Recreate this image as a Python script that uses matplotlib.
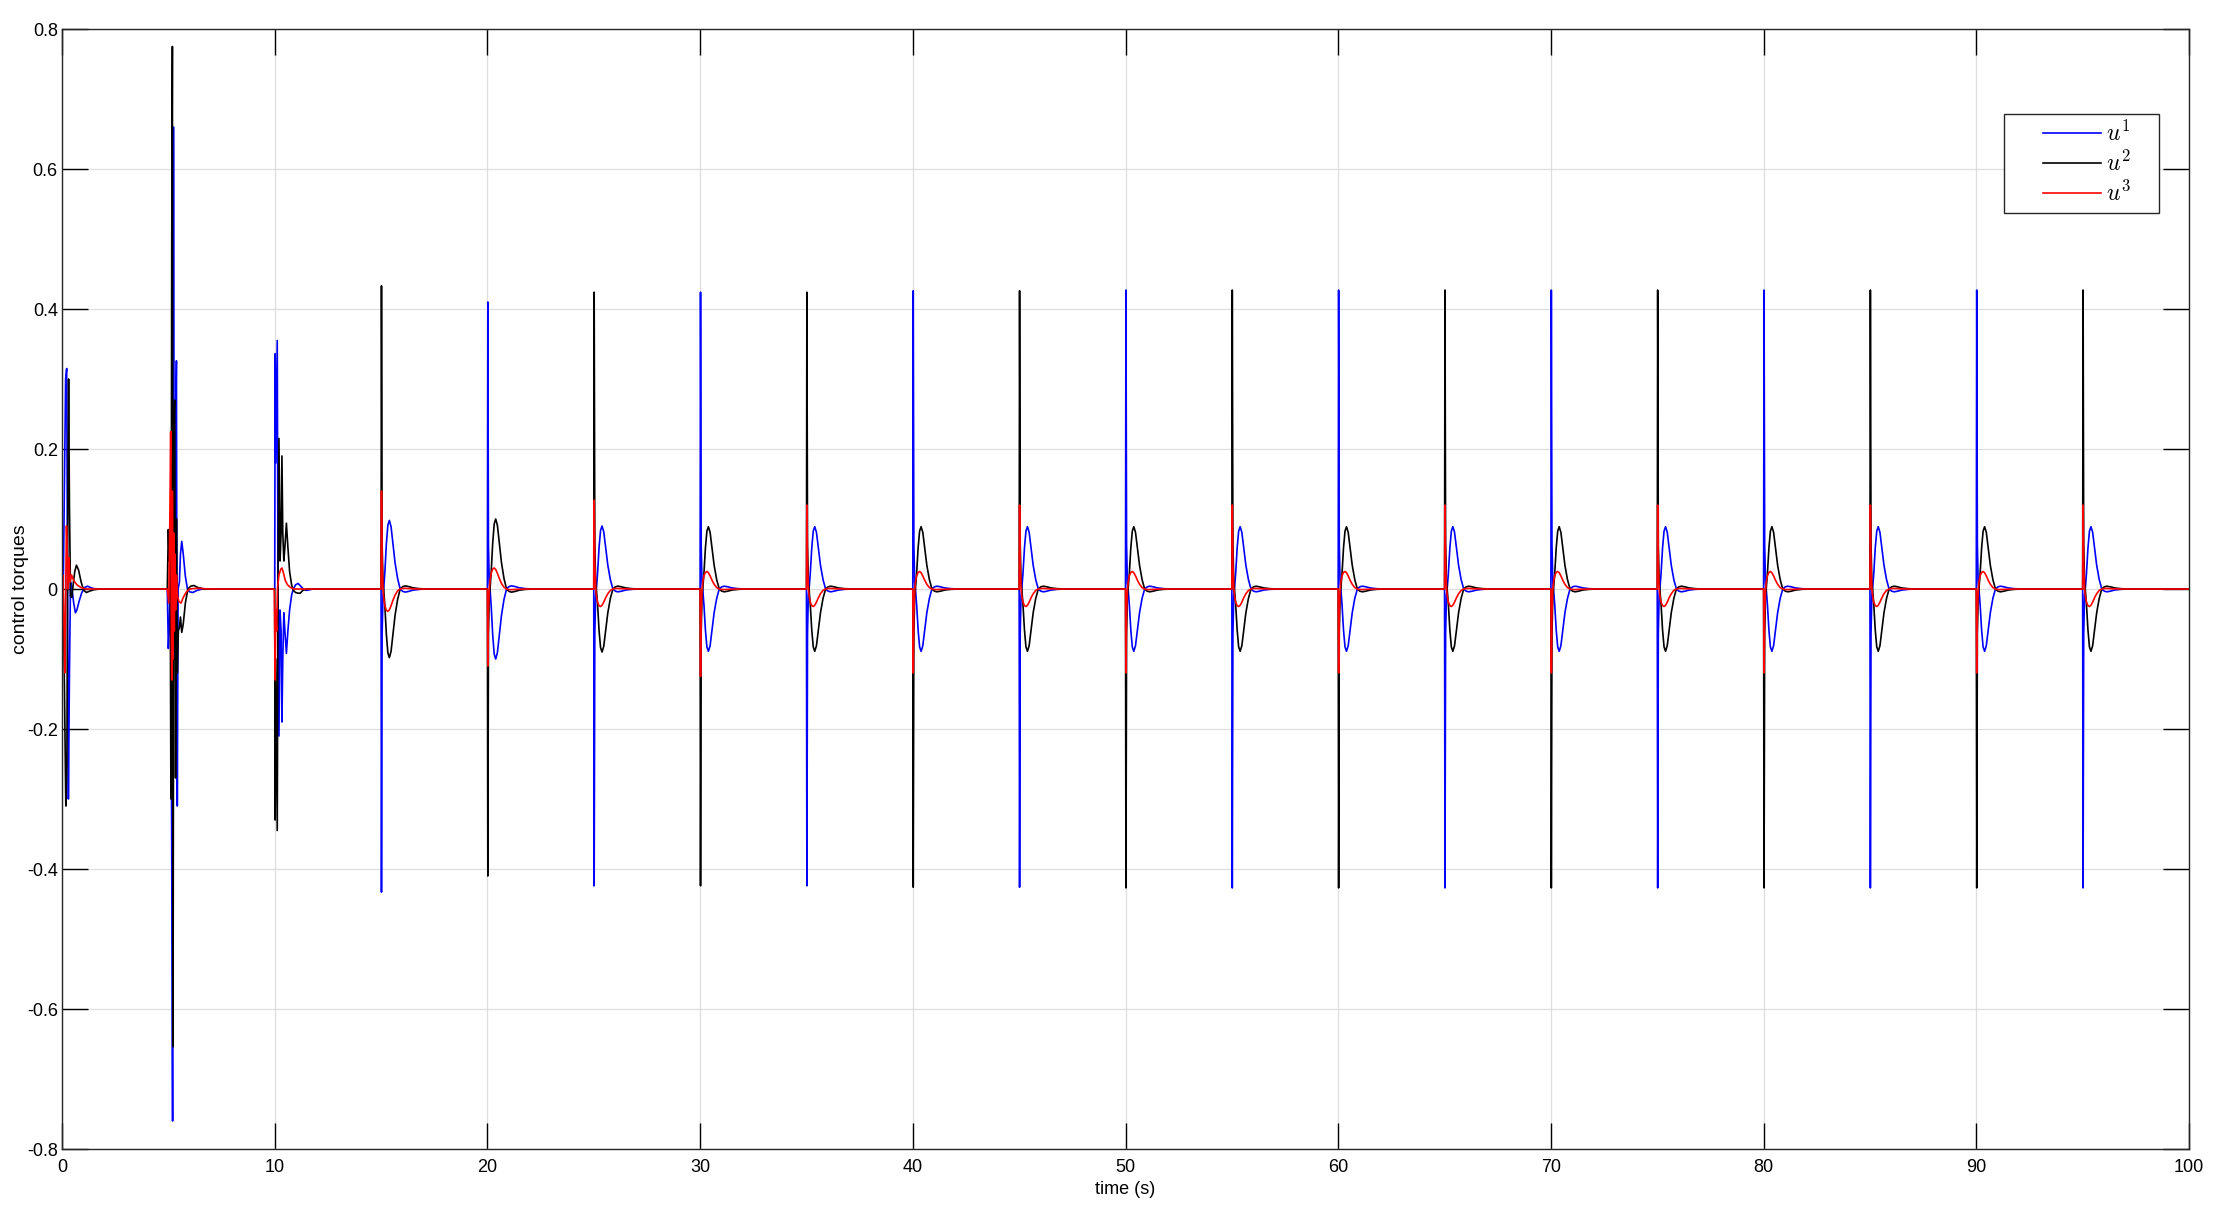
import matplotlib
matplotlib.use("Agg")
import matplotlib.pyplot as plt
from matplotlib.lines import Line2D
from matplotlib.legend_handler import HandlerLine2D
import numpy as np

plt.rcParams['font.family'] = ['Liberation Sans', 'DejaVu Sans']
plt.rcParams['mathtext.fontset'] = 'cm'

# ---- data ----
# first three (transient) pulses, explicit samples: time (s), torque
p0_t_u1 = [0, 0.06, 0.12, 0.17, 0.22, 0.26, 0.3, 0.35, 0.4, 0.47, 0.55, 0.63, 0.7, 0.8, 0.92, 1.05, 1.2, 1.35, 1.5, 1.8]
p0_u1 = [0, 0.0, 0.17, 0.3, 0.315, 0.0, -0.3, -0.12, 0.01, 0.0, -0.02, -0.034, -0.03, -0.018, -0.006, 0.002, 0.004, 0.002, 0.0005, 0]
p0_t_u2 = [0, 0.06, 0.12, 0.18, 0.23, 0.27, 0.31, 0.35, 0.4, 0.46, 0.52, 0.6, 0.68, 0.78, 0.9, 1.02, 1.15, 1.3, 1.5, 1.8]
p0_u2 = [0, 0.0, -0.15, -0.31, -0.25, 0.1, 0.3, 0.12, -0.01, -0.012, 0.005, 0.025, 0.034, 0.027, 0.01, -0.002, -0.005, -0.003, -0.001, 0]
p0_t_u3 = [0, 0.04, 0.09, 0.13, 0.17, 0.21, 0.25, 0.29, 0.33, 0.38, 0.45, 0.55, 0.7, 0.9, 1.1, 1.4]
p0_u3 = [0, 0.02, -0.05, -0.12, -0.02, 0.09, 0.05, 0.0, 0.045, 0.01, 0.02, 0.012, 0.006, 0.002, 0.0, 0]

p5_t_u1 = [4.95, 5.0, 5.05, 5.1, 5.15, 5.2, 5.24, 5.28, 5.33, 5.38, 5.42, 5.46, 5.52, 5.57, 5.63, 5.7, 5.8, 5.9, 6.0, 6.15, 6.35, 6.6, 7.0]
p5_u1 = [0, -0.085, -0.05, 0.05, -0.3, -0.76, 0.66, -0.1, 0.2, 0.326, -0.31, 0.0, 0.01, 0.05, 0.068, 0.05, 0.018, 0.0, -0.004, -0.005, -0.002, 0, 0]
p5_t_u2 = [4.95, 5.0, 5.04, 5.08, 5.12, 5.16, 5.19, 5.22, 5.26, 5.3, 5.34, 5.38, 5.42, 5.47, 5.52, 5.57, 5.63, 5.7, 5.8, 5.92, 6.05, 6.2, 6.4, 6.7, 7.0]
p5_u2 = [0, 0.085, 0.04, 0.1, -0.3, 0.5, 0.775, -0.654, 0.24, 0.27, -0.27, 0.1, -0.12, -0.06, -0.055, -0.04, -0.062, -0.05, -0.02, 0.0, 0.004, 0.005, 0.002, 0, 0]
p5_t_u3 = [4.95, 5.02, 5.07, 5.11, 5.14, 5.16, 5.19, 5.22, 5.25, 5.28, 5.31, 5.34, 5.38, 5.43, 5.5, 5.6, 5.7, 5.85, 6.0, 6.3, 7.0]
p5_u3 = [0, -0.02, 0.1, 0.225, -0.05, -0.13, 0.14, -0.1, 0.08, -0.06, 0.05, -0.03, 0.02, -0.01, -0.018, -0.02, -0.012, -0.004, 0.0, 0.001, 0]

p10_t_u1 = [9.98, 10.0, 10.02, 10.05, 10.08, 10.12, 10.16, 10.2, 10.25, 10.3, 10.34, 10.38, 10.43, 10.48, 10.55, 10.62, 10.7, 10.8, 10.88, 10.98, 11.1, 11.22, 11.35, 11.5, 11.8, 12.0]
p10_u1 = [0, 0.0, 0.336, 0.18, 0.25, 0.355, -0.05, -0.21, -0.03, -0.06, -0.19, -0.1, -0.034, -0.06, -0.092, -0.06, -0.03, -0.008, 0.0, 0.006, 0.008, 0.004, 0.0, -0.002, 0, 0]
p10_t_u2 = [9.98, 10.0, 10.02, 10.05, 10.08, 10.12, 10.16, 10.2, 10.25, 10.3, 10.34, 10.38, 10.43, 10.48, 10.55, 10.62, 10.7, 10.8, 10.88, 10.98, 11.1, 11.2, 11.32, 11.5, 12.0]
p10_u2 = [0, 0.0, -0.33, -0.1, -0.2, -0.345, 0.05, 0.215, 0.04, 0.08, 0.19, 0.08, 0.04, 0.06, 0.094, 0.06, 0.025, 0.005, -0.002, -0.005, -0.006, -0.006, -0.002, 0.0, 0]
p10_t_u3 = [9.98, 10.0, 10.02, 10.05, 10.09, 10.13, 10.2, 10.28, 10.34, 10.42, 10.5, 10.6, 10.75, 10.9, 11.5, 12.0]
p10_u3 = [0, -0.06, -0.13, -0.03, -0.06, 0.0, 0.02, 0.028, 0.03, 0.022, 0.012, 0.006, 0.002, 0.0, 0, 0]

# periodic pulses from t = 15 s: shape of the channel that spikes upward
pulse_dt = [0.0, 0.02, 0.05, 0.09, 0.13, 0.18, 0.25, 0.32, 0.39, 0.47, 0.56, 0.66, 0.78, 0.9, 1.02, 1.14, 1.3, 1.5, 1.8, 2.2]
spike_shape = [0, 1.0, 0.15, 0.02, 0, 0, 0, 0, 0, 0, 0, 0, 0, 0, 0, 0, 0, 0, 0, 0]
bump_shape = [0, 0, 0, 0, -0.03, -0.25, -0.66, -0.93, -1.0, -0.91, -0.66, -0.38, -0.15, 0.0, 0.035, 0.045, 0.035, 0.017, 0.005, 0]
red_spike_shape = [0, 1.0, 0.3, 0.05, 0, 0, 0, 0, 0, 0, 0, 0, 0, 0, 0, 0, 0, 0, 0, 0]
red_bump_shape = [0, 0, 0, -0.2, -0.45, -0.75, -0.95, -1.0, -0.93, -0.75, -0.5, -0.27, -0.08, 0.0, 0.03, 0.03, 0.02, 0.01, 0, 0]

pulse_times = [15, 20, 25, 30, 35, 40, 45, 50, 55, 60, 65, 70, 75, 80, 85, 90, 95]
lead_channel = [2, 1, 2, 1, 2, 1, 2, 1, 2, 1, 2, 1, 2, 1, 2, 1, 2]   # which of u1/u2 spikes up
spike_peak = [0.433, 0.41, 0.424, 0.424, 0.424, 0.426, 0.426, 0.427, 0.427, 0.427, 0.427, 0.427, 0.427, 0.427, 0.427, 0.427, 0.427]
bump_peak = [0.098, 0.1, 0.09, 0.089, 0.089, 0.089, 0.089, 0.089, 0.089, 0.089, 0.089, 0.089, 0.089, 0.089, 0.089, 0.089, 0.089]
red_spike_peak = [0.14, 0.11, 0.127, 0.125, 0.12, 0.12, 0.12, 0.12, 0.12, 0.12, 0.12, 0.12, 0.12, 0.12, 0.12, 0.12, 0.12]
red_bump_peak = [0.032, 0.03, 0.025, 0.025, 0.025, 0.025, 0.025, 0.025, 0.025, 0.025, 0.025, 0.025, 0.025, 0.025, 0.025, 0.025, 0.025]

t_end = 100
x_ticks = [0, 10, 20, 30, 40, 50, 60, 70, 80, 90, 100]
y_ticks = [-0.8, -0.6, -0.4, -0.2, 0, 0.2, 0.4, 0.6, 0.8]
y_tick_labels = ['-0.8', '-0.6', '-0.4', '-0.2', '0', '0.2', '0.4', '0.6', '0.8']
labels = [r'$u^1$', r'$u^2$', r'$u^3$']

# ---- assemble the three series ----
t1, v1 = list(p0_t_u1) + p5_t_u1 + p10_t_u1, list(p0_u1) + p5_u1 + p10_u1
t2, v2 = list(p0_t_u2) + p5_t_u2 + p10_t_u2, list(p0_u2) + p5_u2 + p10_u2
t3, v3 = list(p0_t_u3) + p5_t_u3 + p10_t_u3, list(p0_u3) + p5_u3 + p10_u3

dt = np.array(pulse_dt)
for i, tp in enumerate(pulse_times):
    lead = spike_peak[i] * np.array(spike_shape) + bump_peak[i] * np.array(bump_shape)
    red = red_spike_peak[i] * np.array(red_spike_shape) + red_bump_peak[i] * np.array(red_bump_shape)
    sign2 = 1 if lead_channel[i] == 2 else -1
    t1 += list(tp + dt); v1 += list(-sign2 * lead)
    t2 += list(tp + dt); v2 += list(sign2 * lead)
    t3 += list(tp + dt); v3 += list(sign2 * red)
for t, v in ((t1, v1), (t2, v2), (t3, v3)):
    t.append(t_end); v.append(0)

# ---- plot ----
W, H = 2226, 1219
fig = plt.figure(figsize=(W / 100, H / 100), dpi=100)
ax = fig.add_axes([62 / W, 1 - 1149 / H, (2189 - 62) / W, (1149 - 29) / H])

ax.plot(t1, v1, color='#0000ff', lw=1.2, label=labels[0])
ax.plot(t2, v2, color='#000000', lw=1.2, label=labels[1])
ax.plot(t3, v3, color='#ff0000', lw=1.2, label=labels[2])

ax.set_xlim(0, 100)
ax.set_ylim(-0.8, 0.8)
ax.set_xticks(x_ticks)
ax.set_yticks(y_ticks, y_tick_labels)
ax.grid(True, color='#dedede', lw=0.9)
ax.tick_params(direction='in', length=19, width=1.0, top=True, right=True,
               labelsize=13, colors='black')
ax.tick_params(axis='x', pad=7)
ax.tick_params(axis='y', pad=3)
for s in ax.spines.values():
    s.set_color('#262626')
    s.set_linewidth(1.0)

ax.set_xlabel('time (s)', fontsize=13, labelpad=4)
ax.set_ylabel('control torques', fontsize=14)
# anchor is the right edge of the rotated label
ax.yaxis.set_label_coords((29 - 62) / (2189 - 62), 0.5)

# matlab-like legend box: line sample starts well inside the frame
leg_fs = 17
leg = ax.legend([l + '\u00a0\u00a0\u00a0\u00a0' for l in labels],
                loc='upper left', bbox_to_anchor=(2004 / W, 1 - 114 / H),
                bbox_transform=fig.transFigure, borderaxespad=0, fontsize=leg_fs,
                handlelength=3.8, handletextpad=0.2, borderpad=0.3, labelspacing=0.2,
                fancybox=False, framealpha=1, edgecolor='#262626',
                handler_map={Line2D: HandlerLine2D(xpad=1.35)})
leg.get_frame().set_linewidth(1.0)

fig.savefig('out.png', dpi=100)
